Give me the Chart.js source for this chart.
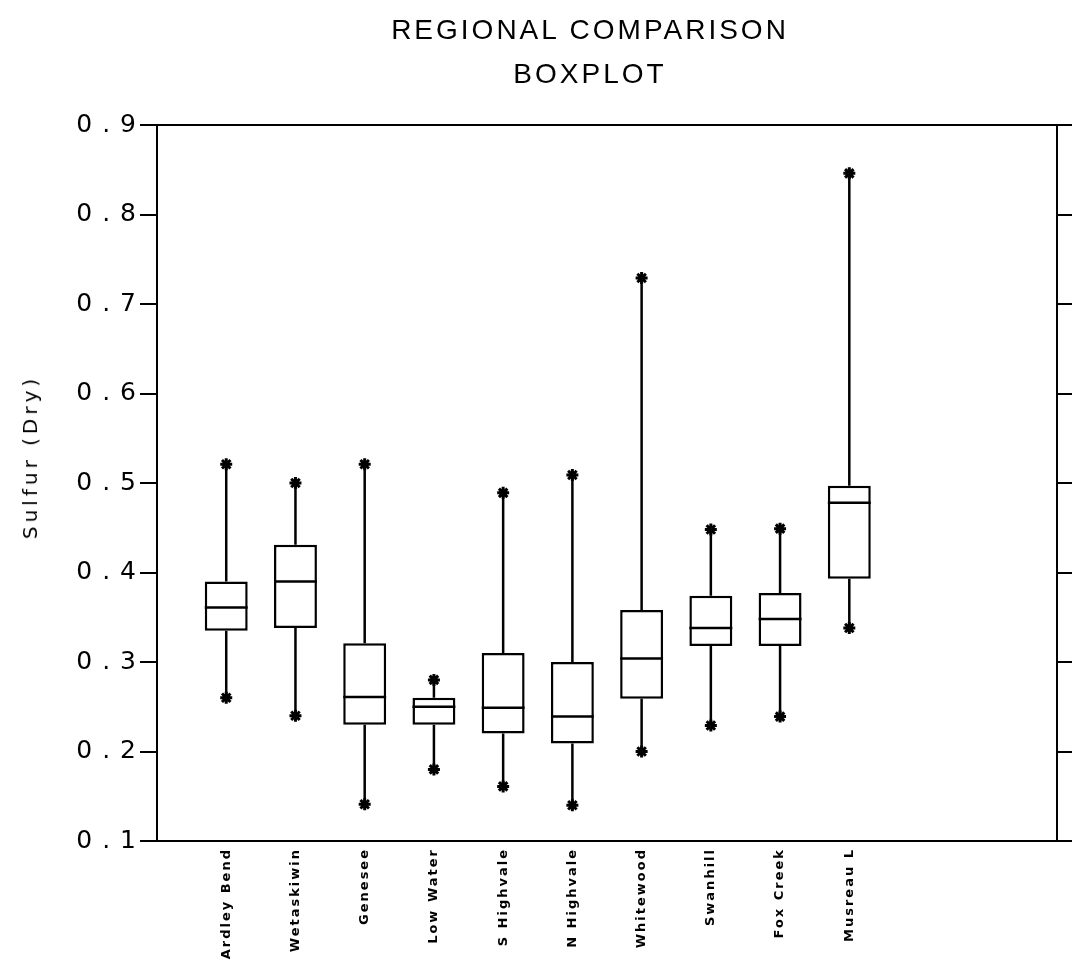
<!DOCTYPE html>
<html>
	<head>
		<title>Regional Comparison Boxplot</title>
		<meta charset="utf-8">
		<script src="https://cdn.jsdelivr.net/npm/chart.js"></script>
		<style>
			body { margin: 0; background: #fff; }
			#wrap { position: relative; width: 1072px; height: 963px; }
			#title {
				position: absolute; top: 8px; left: 108px; width: 964px;
				text-align: center; font: 28px "Liberation Sans", sans-serif;
				letter-spacing: 3px; line-height: 44px; color: #000;
			}
			#ylabel {
				position: absolute; left: 30px; top: 457px; white-space: nowrap;
				transform: translate(-50%, -50%) rotate(-90deg);
				font: 20px "DejaVu Sans", sans-serif; letter-spacing: 4px; color: #000;
			}
		</style>
	</head>
	<body>
		<div id="wrap">
			<canvas id="chart" width="1072" height="963"></canvas>
			<div id="title">REGIONAL COMPARISON<br>BOXPLOT</div>
			<div id="ylabel">Sulfur (Dry)</div>
		</div>

		<script>
			// Regions and box statistics.
			const CATEGORIES = ['Ardley Bend', 'Wetaskiwin', 'Genesee', 'Low Water', 'S Highvale',
				'N Highvale', 'Whitewood', 'Swanhill', 'Fox Creek', 'Musreau L'];
			const MIN    = [0.260, 0.240, 0.141, 0.180, 0.161, 0.140, 0.200, 0.229, 0.239, 0.338];
			const Q1     = [0.335, 0.338, 0.230, 0.230, 0.220, 0.209, 0.259, 0.318, 0.318, 0.393];
			const MEDIAN = [0.361, 0.390, 0.261, 0.250, 0.249, 0.239, 0.304, 0.338, 0.348, 0.478];
			const Q3     = [0.390, 0.431, 0.321, 0.260, 0.310, 0.300, 0.358, 0.374, 0.377, 0.497];
			const MAX    = [0.521, 0.500, 0.521, 0.280, 0.489, 0.509, 0.729, 0.448, 0.449, 0.846];

			const Y_MIN = 0.1, Y_MAX = 0.9, Y_STEP = 0.1;
			const X_MAX = 13;          // empty room right of the last box
			const BOX_WIDTH = 0.62;    // in category units

			// Build datasets from the arrays.
			const boxes = CATEGORIES.map((c, i) => ({ x: i + 1, y: [Q1[i], Q3[i]] }));
			const whiskers = [];
			const medians = [];
			const extremes = [];
			CATEGORIES.forEach((c, i) => {
				const x = i + 1;
				whiskers.push({ x: x, y: Q3[i] }, { x: x, y: MAX[i] }, { x: x, y: null });
				whiskers.push({ x: x, y: Q1[i] }, { x: x, y: MIN[i] }, { x: x, y: null });
				medians.push({ x: x - BOX_WIDTH / 2, y: MEDIAN[i] }, { x: x + BOX_WIDTH / 2, y: MEDIAN[i] }, { x: x, y: null });
				extremes.push({ x: x, y: MAX[i] }, { x: x, y: MIN[i] });
			});

			// Wide letter spacing like the plotter font: y ticks before datasets, x labels after.
			const spacing = {
				id: 'spacing',
				beforeDraw(chart) { chart.ctx.letterSpacing = '10px'; },
				beforeDatasetsDraw(chart) { chart.ctx.letterSpacing = '2px'; },
				afterDraw(chart) { chart.ctx.letterSpacing = '0px'; }
			};

			const lineStyle = {
				type: 'line', borderColor: '#000', borderWidth: 2.5, pointRadius: 0,
				fill: false, spanGaps: false, tension: 0, order: 1
			};

			new Chart(document.getElementById('chart'), {
				type: 'bar',
				data: {
					datasets: [
						{
							label: 'Box', data: boxes, backgroundColor: '#fff', borderColor: '#000',
							borderWidth: 2.5, borderSkipped: false, barPercentage: BOX_WIDTH,
							categoryPercentage: 1, order: 3
						},
						Object.assign({ label: 'Whisker', data: whiskers }, lineStyle),
						Object.assign({ label: 'Median', data: medians }, lineStyle),
						{
							type: 'scatter', label: 'Extreme', data: extremes, pointStyle: 'star',
							pointRadius: 6, borderWidth: 3, borderColor: '#000', backgroundColor: '#000', order: 0
						}
					]
				},
				options: {
					responsive: false,
					animation: false,
					devicePixelRatio: 1,
					layout: { padding: { top: 125, left: 0, right: 0, bottom: 0 } },
					plugins: { legend: { display: false }, tooltip: { enabled: false } },
					scales: {
						x: {
							type: 'linear', position: 'bottom', min: 0, max: X_MAX, offset: false,
							grid: { offset: false, drawOnChartArea: false, drawTicks: false },
							border: { color: '#000', width: 2 },
							afterBuildTicks: s => { s.ticks = CATEGORIES.map((c, i) => ({ value: i + 1 })); },
							afterFit: s => { s.height = 122; },
							ticks: {
								z: 1, autoSkip: false, minRotation: 90, maxRotation: 90, padding: 7, color: '#000',
								font: { family: 'DejaVu Sans', size: 13, weight: 'bold' },
								callback: v => CATEGORIES[v - 1]
							}
						},
						x2: {
							type: 'linear', position: 'top', min: 0, max: X_MAX,
							grid: { drawOnChartArea: false, drawTicks: false },
							border: { color: '#000', width: 2 },
							ticks: { display: false },
							afterFit: s => { s.height = 0; }
						},
						y: {
							type: 'linear', position: 'left', min: Y_MIN, max: Y_MAX,
							grid: { drawOnChartArea: false, tickLength: 17, color: '#000', lineWidth: 2 },
							border: { color: '#000', width: 2 },
							afterFit: s => { s.width = 157; },
							ticks: {
								stepSize: Y_STEP, padding: -6, color: '#000',
								font: { family: 'DejaVu Sans', size: 25 },
								callback: v => v.toFixed(1)
							}
						},
						y2: {
							type: 'linear', position: 'right', min: Y_MIN, max: Y_MAX,
							grid: { drawOnChartArea: false, tickLength: 16, color: '#000', lineWidth: 2 },
							border: { color: '#000', width: 2 },
							afterFit: s => { s.width = 15; },
							ticks: { stepSize: Y_STEP, display: false }
						}
					}
				},
				plugins: [spacing]
			});
		</script>
	</body>
</html>
